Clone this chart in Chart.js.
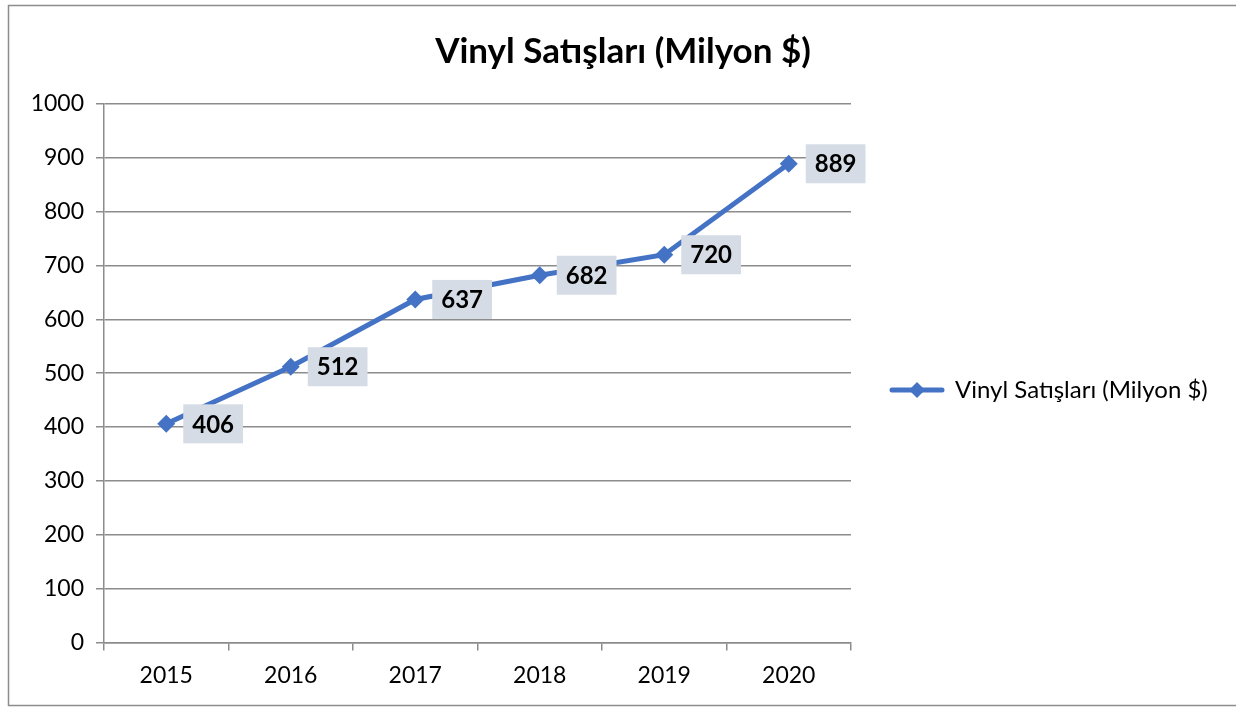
<!DOCTYPE html>
<html>
<head>
<meta charset="utf-8">
<script src="https://cdn.jsdelivr.net/npm/chart.js@4/dist/chart.umd.min.js"></script>
<style>
  html, body { margin: 0; padding: 0; background: #fff; }
  #wrap { width: 1236px; height: 707px; }
</style>
</head>
<body>
<div id="wrap"><canvas id="chart-line"></canvas></div>
<script>
const years = ['2015', '2016', '2017', '2018', '2019', '2020'];
const sales = [406, 512, 637, 682, 720, 889];
const yTicks = [0, 100, 200, 300, 400, 500, 600, 700, 800, 900, 1000];
const seriesName = 'Vinyl Satışları (Milyon $)';

const blue = '#4472C4';
const gridGray = '#8c8c8c';
Chart.defaults.font.family = 'Lato, "Noto Sans", sans-serif';
Chart.defaults.color = '#000';

// legend symbol: line with diamond in the middle
const legendMark = document.createElement('canvas');
legendMark.width = 56; legendMark.height = 18;
(function(){
    const c = legendMark.getContext('2d');
    c.strokeStyle = blue; c.lineWidth = 5; c.lineCap = 'round';
    c.beginPath(); c.moveTo(3, 9); c.lineTo(53, 9); c.stroke();
    c.fillStyle = blue;
    c.beginPath(); c.moveTo(20, 9); c.lineTo(28, 1); c.lineTo(36, 9); c.lineTo(28, 17); c.closePath(); c.fill();
})();

const frame = {
    id: 'frame',
    beforeDraw(chart){
        const ctx = chart.ctx;
        ctx.save();
        ctx.fillStyle = '#fff';
        ctx.fillRect(0, 0, chart.width, chart.height);
        ctx.strokeStyle = '#8c8c8c';
        ctx.lineWidth = 1.5;
        ctx.strokeRect(8.5, 5.5, 1300, 700);
        ctx.restore();
    }
};

const legendSize = {
    id: 'legendSize',
    beforeLayout(chart){
        const lg = chart.legend;
        if (lg && !lg._sized) {
            const orig = lg.fit;
            lg.fit = function(){ orig.call(this); this.width = 385; };
            lg._sized = true;
        }
    },
    afterLayout(chart){
        const lg = chart.legend;
        if (lg) { lg.top += 40; lg.bottom += 40; }
    }
};

const valueBoxes = {
    id: 'valueBoxes',
    afterDatasetsDraw(chart){
        const ctx = chart.ctx;
        const meta = chart.getDatasetMeta(0);
        ctx.save();
        ctx.font = 'bold 24px Lato, "Noto Sans", sans-serif';
        ctx.textAlign = 'center';
        ctx.textBaseline = 'middle';
        meta.data.forEach((pt, i) => {
            const txt = String(sales[i]);
            const w = ctx.measureText(txt).width + 18;
            const bx = pt.x + 17, by = pt.y - 19.5;
            ctx.fillStyle = '#D6DCE5';
            ctx.fillRect(bx, by, w, 39);
            ctx.fillStyle = '#000';
            ctx.fillText(txt, bx + w / 2, pt.y + 1);
        });
        ctx.restore();
    }
};

let myChart = new Chart(
    document.getElementById('chart-line'),
    {
        type: 'line',
        data: {
            labels: years,
            datasets: [{
                label: seriesName,
                data: sales,
                borderColor: blue,
                backgroundColor: blue,
                borderWidth: 5,
                pointStyle: 'rectRot',
                pointRadius: 9,
                pointBorderWidth: 0,
                pointBackgroundColor: blue,
                tension: 0
            }]
        },
        options: {
            responsive: true,
            maintainAspectRatio: false,
            animation: false,
            layout: { padding: { left: 10, right: 0, top: 0, bottom: 7 } },
            scales: {
                x: {
                    offset: true,
                    grid: { drawOnChartArea: false, drawTicks: true, tickLength: 8, offset: true, color: gridGray, lineWidth: 1.5 },
                    border: { color: gridGray, width: 1.5 },
                    ticks: { font: { size: 23 }, padding: 11, color: '#000' }
                },
                y: {
                    min: 0, max: 1000,
                    afterFit(scale){ scale.width = 94; },
                    afterBuildTicks(scale){ scale.ticks = yTicks.map(v => ({ value: v })); },
                    grid: { color: gridGray, lineWidth: 1.5, tickLength: 8 },
                    border: { color: gridGray, width: 1.5 },
                    ticks: { font: { size: 23 }, padding: 12, color: '#000', callback: v => String(v) }
                }
            },
            plugins: {
                title: {
                    display: true,
                    text: seriesName,
                    font: { size: 35, weight: 'bold' },
                    color: '#000',
                    padding: { top: 31, bottom: 31 }
                },
                legend: {
                    position: 'right',
                    labels: {
                        usePointStyle: true,
                        pointStyle: legendMark,
                        pointStyleWidth: 52,
                        padding: 40,
                        font: { size: 24 },
                        color: '#000'
                    }
                },
                tooltip: { enabled: false }
            }
        },
        plugins: [frame, legendSize, valueBoxes]
    }
);
</script>
</body>
</html>
